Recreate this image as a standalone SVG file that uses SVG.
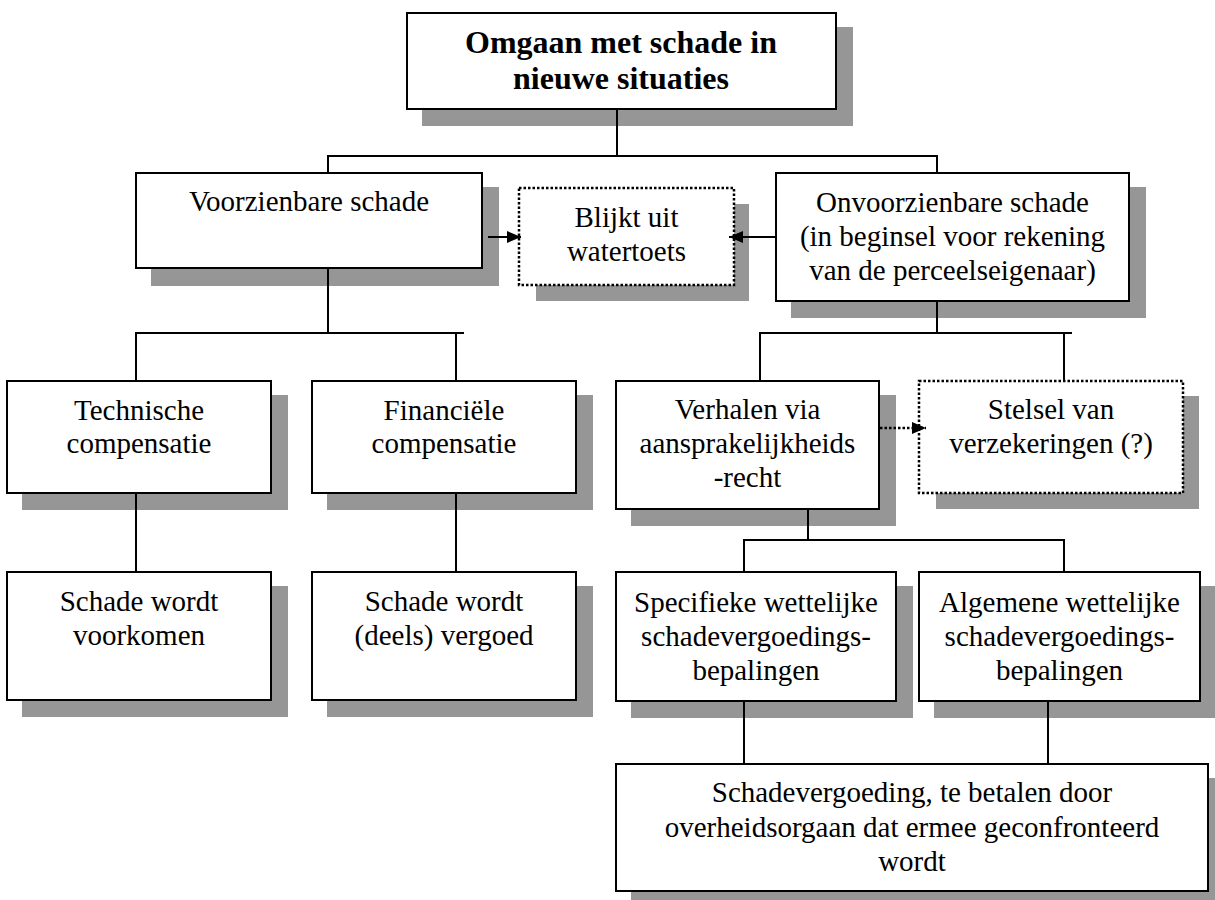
<svg xmlns="http://www.w3.org/2000/svg" width="1215" height="900" viewBox="0 0 1215 900">
<style>
.box{fill:#fff;stroke:#000;stroke-width:2}
.dot{fill:#fff;stroke:#000;stroke-width:2.5;stroke-dasharray:2.5 2}
.sh{fill:#969696;stroke:none}
.t{font-family:"Liberation Serif","Times New Roman",serif;font-size:29px;fill:#000;text-anchor:middle}
.b{font-family:"Liberation Serif","Times New Roman",serif;font-size:32px;font-weight:bold;fill:#000;text-anchor:middle}
.c{fill:none;stroke:#000;stroke-width:2}
.cd{fill:none;stroke:#000;stroke-width:2.5;stroke-dasharray:2.5 2}
</style>
<defs>
<marker id="ah" markerUnits="userSpaceOnUse" markerWidth="14" markerHeight="12" refX="14" refY="6" orient="auto">
<path d="M0,0 L14,6 L0,12 Z" fill="#000"/>
</marker>
</defs>
<rect width="1215" height="900" fill="#fff"/>

<g id="n-top">
<rect class="sh" x="422" y="27" width="431" height="99"/>
<rect class="box" x="407" y="13" width="429" height="96"/>
<text class="b" x="621" y="53">Omgaan met schade in</text>
<text class="b" x="621" y="89">nieuwe situaties</text>
</g>

<g id="n-voorzienbaar">
<rect class="sh" x="151" y="187" width="348" height="99"/>
<rect class="box" x="136" y="173" width="346" height="95"/>
<text class="t" x="309" y="211">Voorzienbare schade</text>
</g>

<g id="n-watertoets">
<rect class="sh" x="536" y="204" width="213" height="97"/>
<rect class="dot" x="519" y="188" width="215" height="97"/>
<text class="t" x="626.5" y="227">Blijkt uit</text>
<text class="t" x="626.5" y="261">watertoets</text>
</g>

<g id="n-onvoorzienbaar">
<rect class="sh" x="791" y="187" width="355" height="131"/>
<rect class="box" x="776" y="173" width="353" height="128"/>
<text class="t" x="952.5" y="212">Onvoorzienbare schade</text>
<text class="t" x="952.5" y="246">(in beginsel voor rekening</text>
<text class="t" x="952.5" y="280">van de perceelseigenaar)</text>
</g>

<g id="n-technisch">
<rect class="sh" x="22" y="395" width="266" height="115"/>
<rect class="box" x="7" y="381" width="264" height="112"/>
<text class="t" x="139" y="420">Technische</text>
<text class="t" x="139" y="453">compensatie</text>
</g>

<g id="n-financieel">
<rect class="sh" x="327" y="395" width="266" height="115"/>
<rect class="box" x="312" y="381" width="264" height="112"/>
<text class="t" x="444" y="420">Financiële</text>
<text class="t" x="444" y="453">compensatie</text>
</g>

<g id="n-verhalen">
<rect class="sh" x="631" y="395" width="265" height="131"/>
<rect class="box" x="616" y="381" width="263" height="128"/>
<text class="t" x="747.5" y="419">Verhalen via</text>
<text class="t" x="747.5" y="453">aansprakelijkheids</text>
<text class="t" x="747.5" y="487">-recht</text>
</g>

<g id="n-stelsel">
<rect class="sh" x="936" y="396" width="263" height="113"/>
<rect class="dot" x="919" y="381" width="264" height="112"/>
<text class="t" x="1051" y="419">Stelsel van</text>
<text class="t" x="1051" y="453">verzekeringen (?)</text>
</g>

<g id="n-voorkomen">
<rect class="sh" x="22" y="586" width="266" height="131"/>
<rect class="box" x="7" y="572" width="264" height="128"/>
<text class="t" x="139" y="611">Schade wordt</text>
<text class="t" x="139" y="645">voorkomen</text>
</g>

<g id="n-vergoed">
<rect class="sh" x="327" y="586" width="266" height="131"/>
<rect class="box" x="312" y="572" width="264" height="128"/>
<text class="t" x="444" y="611">Schade wordt</text>
<text class="t" x="444" y="645">(deels) vergoed</text>
</g>

<g id="n-specifiek">
<rect class="sh" x="631" y="586" width="282" height="132"/>
<rect class="box" x="616" y="572" width="280" height="129"/>
<text class="t" x="756" y="612">Specifieke wettelijke</text>
<text class="t" x="756" y="646">schadevergoedings-</text>
<text class="t" x="756" y="680">bepalingen</text>
</g>

<g id="n-algemeen">
<rect class="sh" x="934" y="586" width="283" height="132"/>
<rect class="box" x="919" y="572" width="281" height="129"/>
<text class="t" x="1059.5" y="612">Algemene wettelijke</text>
<text class="t" x="1059.5" y="646">schadevergoedings-</text>
<text class="t" x="1059.5" y="680">bepalingen</text>
</g>

<g id="n-schadevergoeding">
<rect class="sh" x="631" y="778" width="594" height="130"/>
<rect class="box" x="616" y="764" width="592" height="127"/>
<text class="t" x="912" y="802">Schadevergoeding, te betalen door</text>
<text class="t" x="912" y="837">overheidsorgaan dat ermee geconfronteerd</text>
<text class="t" x="912" y="871">wordt</text>
</g>

<g id="connectors">
<path class="c" d="M617,109 V156 M328,156 H937 M328,155 V173 M937,155 V173"/>
<path class="c" d="M328,268 V333 M136,333 H464 M136,332 V381 M456,332 V381"/>
<path class="c" d="M136,493 V572 M456,493 V572"/>
<path class="c" d="M937,301 V333 M760,333 H1072 M760,332 V381 M1064,332 V381"/>
<path class="c" d="M808,509 V541 M744,540 H1064 M744,539 V572 M1064,539 V572"/>
<path class="c" d="M744,701 V764 M1048,701 V764"/>
<line class="c" x1="488" y1="237" x2="521" y2="237" marker-end="url(#ah)"/>
<line class="c" x1="776" y1="237" x2="729" y2="237" marker-end="url(#ah)"/>
<line class="cd" x1="880" y1="428" x2="926" y2="428" marker-end="url(#ah)"/>
</g>
</svg>
